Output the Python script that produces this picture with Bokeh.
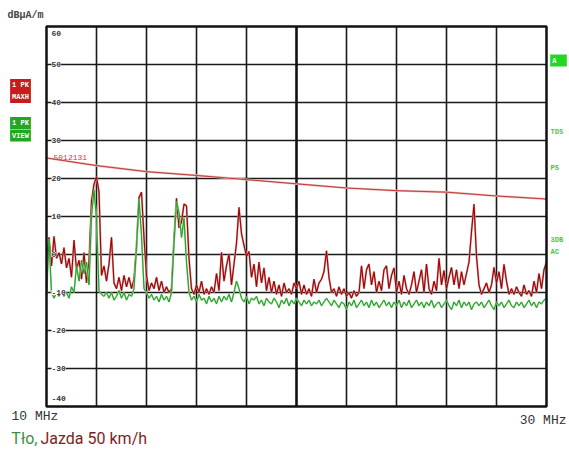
from bokeh.plotting import figure
from bokeh.models import Label
from bokeh.embed import file_html
from bokeh.resources import INLINE

# ---------------- data ----------------
F_START, F_STOP, STEP = 10.0, 30.0, 0.1

red_maxh = [
    -2, 4.5, -3, 4.8, -1, 0.5, -2.5, 1.8, -3.5, -1,
    -6, 3.8, -4, -1.5, -6.5, 0.5, -7.5, -2, 14, 18.5,
    20.5, 16.5, -5.5, -3, -7, -2.5, 4.5, -7.5, -9, -6,
    -9.5, -5.5, -8.5, -6, -9, -6.5, 2, 15, 16.4, 4.5,
    -5.5, -9.5, -7.5, -9, -6, -9.5, -7, -10, -8.5, -10,
    -9, 4, 14.8, 7, 8.5, 13.3, 12.8, -1, -9, -10.5,
    -8, -10, -7, -10.5, -9, -10.5, -8.5, -10, -5, -9.5,
    0.6, -7, -3, 0.2, -8, -2.5, 3, 12.4, 5.5, 2.4,
    -0.5, 0.8, -6, -2.5, -8.5, -2, -7.5, -3.5, -9.5, -6,
    -10, -7, -10.5, -8, -11, -7.5, -10, -9, -10.5, -7.5,
    -9, -7, -10.5, -8, -10.5, -9, -11, -6.5, -10, -7.5,
    -6.5, -4.5, 1, -6, -10, -9, -11, -8.5, -10.5, -9,
    -11, -10, -11.5, -9.5, -11, -10, -3, -9, -4, -2.5,
    -8, -4.5, -10, -7, -9.5, -4, -3, -9, -5.5, -3.5,
    -10, -7, -10.5, -5.5, -9, -10.5, -8, -4.5, -10, -7,
    -4, -10, -2.5, -9, -10.5, -7, -9.5, -1, -8, -4.2,
    -9, -6, -3.4, -8, -4, -9, -4.5, -8, -5, -2,
    6, 13.3, -0.5, -8, -10.5, -9, -7.5, -10, -8, -3.4,
    -7.5, -4.5, -9, -2.6, -7, -10.5, -9, -10.5, -8.5, -10,
    -11, -8, -10.5, -9.5, -11, -7, -10, -5, -9, -4,
    -2,
]

green_view = [
    -11, 4, -10, -11.5, -10, -11, -9.5, -11, -10, -11.5,
    -8.5, -10, -3, -7, -1.5, -5, -2, -8, 10, 17,
    9.5, -9.5, -10.5, -11, -10, -11.5, -10, -12, -11, -9.5,
    -11.5, -10, -12, -10.5, -11, -9, 2, 14.5, 5, -9,
    -10, -11.5, -10.5, -12, -11, -12.5, -10.5, -12, -11, -12.5,
    -10, 3, 14, 11, 4.5, 9.5, -2, -10, -12, -11,
    -12.5, -10.5, -12, -11.5, -13, -11, -12.5, -11.5, -13, -11,
    -12.5, -11, -12, -10.5, -12.5, -10, -7, -9, -11.5, -12.5,
    -11, -13, -11.5, -12, -11, -13, -12, -13.5, -11.5, -12.5,
    -13, -11.5, -12.5, -14, -12, -13, -11.5, -13.5, -12, -13,
    -11.5, -12.5, -13.5, -12, -13, -12, -13.5, -12.5, -13, -12,
    -13.5, -12.5, -11.5, -12.5, -13.5, -12, -13, -14, -12.5, -13,
    -14.5, -12.5, -13.5, -12, -14, -13, -12, -13.5, -12.5, -14,
    -12, -13.5, -12.5, -14, -13, -12, -13.5, -12.5, -14, -12.5,
    -13.5, -12, -14, -12.5, -13.5, -12, -14, -13, -12, -13.5,
    -12.5, -14, -12.5, -13.5, -12, -14, -13, -12.5, -14, -13,
    -12, -13.5, -14.5, -12.5, -13.5, -12, -14, -12.5, -13.5, -12.5,
    -14.5, -13, -12.5, -13.5, -12.5, -14, -13, -12, -13.5, -14.5,
    -12.5, -13.5, -12.5, -14, -13, -12, -13.5, -14, -12.5, -13.5,
    -12.5, -14, -13, -12, -13.5, -12.5, -14, -12.5, -13, -12,
    -11.5,
]

limit_freq = [10, 12, 14, 16, 18, 20, 22, 24, 26, 28, 30]
limit_db = [25.4, 23.4, 21.8, 20.8, 19.7, 18.6, 17.5, 16.8, 16.4, 15.4, 14.6]

x_grid_ticks = [12, 14, 16, 18, 22, 24, 26, 28]
x_center = 20
y_grid_ticks = [50, 40, 30, 20, 10, 0, -10, -20, -30]
y_tick_values = [60, 50, 40, 30, 20, 10, 0, -10, -20, -30, -40]
y_tick_labels = ["60", "50", "40", "30", "20", "10", "0", "-10", "-20", "-30", "-40"]

Y_MIN, Y_MAX = -40, 60
freq = [round(F_START + STEP * i, 3) for i in range(len(red_maxh))]

# ---------------- layout (canvas pixels) ----------------
W, H = 569, 450
FRAME_L, FRAME_R, FRAME_T, FRAME_B = 46, 546, 26, 406
PX_PER_MHZ = (FRAME_R - FRAME_L) / (F_STOP - F_START)
PX_PER_DB = (FRAME_B - FRAME_T) / (Y_MAX - Y_MIN)
x_lo = F_START - FRAME_L / PX_PER_MHZ
x_hi = F_START + (W - FRAME_L) / PX_PER_MHZ
y_hi = Y_MAX + FRAME_T / PX_PER_DB
y_lo = Y_MAX - (H - FRAME_T) / PX_PER_DB

def px2x(X):
    return x_lo + X / PX_PER_MHZ
def px2y(Y):
    return y_hi - Y / PX_PER_DB

p = figure(width=W, height=H, x_range=(x_lo, x_hi), y_range=(y_lo, y_hi),
           x_axis_type=None, y_axis_type=None,
           output_backend="svg", toolbar_location=None,
           min_border=0, min_border_left=0, min_border_right=0,
           min_border_top=0, min_border_bottom=0)
p.background_fill_color = "white"
p.border_fill_color = "white"
p.outline_line_color = None
p.xgrid.visible = False
p.ygrid.visible = False

GRID_C = "#1a1a1a"
p.segment(x0=x_grid_ticks, y0=[Y_MIN] * len(x_grid_ticks),
          x1=x_grid_ticks, y1=[Y_MAX] * len(x_grid_ticks),
          line_color=GRID_C, line_width=1.6)
p.segment(x0=[F_START] * len(y_grid_ticks), y0=y_grid_ticks,
          x1=[F_STOP] * len(y_grid_ticks), y1=y_grid_ticks,
          line_color=GRID_C, line_width=1.6)
p.segment(x0=[x_center], y0=[Y_MIN], x1=[x_center], y1=[Y_MAX],
          line_color="#111111", line_width=2.6)

# y tick labels inside the frame
MONO = "Liberation Mono"
for v, t in zip(y_tick_values, y_tick_labels):
    off = 0
    if v == Y_MAX:
        off = -7
    elif v == Y_MIN:
        off = 8
    p.add_layout(Label(x=px2x(51), y=v, y_offset=off, text=t,
                       text_font=MONO, text_font_size="8px",
                       text_font_style="bold", text_color="#333333",
                       text_align="left", text_baseline="middle",
                       background_fill_color="white"))

# traces
p.line(freq, red_maxh, line_color="#d09a9a", line_width=2.0)
p.line(freq, red_maxh, line_color="#a40000", line_width=1.1)
p.line(freq, green_view, line_color="#9ad49a", line_width=1.8)
p.line(freq, green_view, line_color="#1f9f1f", line_width=1.0)

# limit line
p.line(limit_freq, limit_db, line_color="#eab8b8", line_width=2.2)
p.line(limit_freq, limit_db, line_color="#c03838", line_width=1.0)
p.add_layout(Label(x=px2x(53), y=px2y(156.5), text="5012131",
                   text_font=MONO, text_font_size="8px",
                   text_color="#c84040", text_align="left", text_baseline="middle"))

# instrument frame
p.quad(left=[F_START], right=[F_STOP], bottom=[Y_MIN], top=[Y_MAX],
       fill_color=None, line_color="#111111", line_width=2.5)

# outside texts
p.add_layout(Label(x=px2x(7), y=px2y(15), text="dBµA/m", text_font=MONO,
                   text_font_size="10px", text_font_style="bold", text_color="#444444",
                   text_align="left", text_baseline="middle"))

def box(x, y, t, fill):
    p.add_layout(Label(x=px2x(x), y=px2y(y), text=t, text_font=MONO,
                       text_font_size="7px", text_font_style="bold", text_color="white",
                       text_align="center", text_baseline="middle",
                       background_fill_color=fill, padding=2))

box(20, 84.5, "1 PK", "#c81c1c")
box(20, 96.5, "MAXH", "#c81c1c")
box(20, 122.5, "1 PK", "#22a722")
box(20, 135, "VIEW", "#22a722")
box(558, 60, " A ", "#22d822")

for t, yy in [("TDS", 131.5), ("PS", 167), ("3DB", 239), ("AC", 251.5)]:
    p.add_layout(Label(x=px2x(550), y=px2y(yy), text=t, text_font=MONO,
                       text_font_size="7px", text_font_style="bold", text_color="#3ccc3c",
                       text_align="left", text_baseline="middle"))

p.add_layout(Label(x=px2x(11), y=px2y(416), text="10 MHz", text_font=MONO,
                   text_font_size="13px", text_color="#333333",
                   text_align="left", text_baseline="middle"))
p.add_layout(Label(x=px2x(566), y=px2y(420), text="30 MHz", text_font=MONO,
                   text_font_size="13px", text_color="#333333",
                   text_align="right", text_baseline="middle"))

p.add_layout(Label(x=px2x(37), y=px2y(438), text="Tło,", text_font="Roboto",
                   text_font_size="16px", text_color="#3f8f3f",
                   text_align="right", text_baseline="middle"))
p.add_layout(Label(x=px2x(40), y=px2y(438), text="Jazda 50 km/h", text_font="Roboto",
                   text_font_size="16px", text_color="#7e1e1e",
                   text_align="left", text_baseline="middle"))

open("out.html", "w").write(file_html(p, INLINE))
